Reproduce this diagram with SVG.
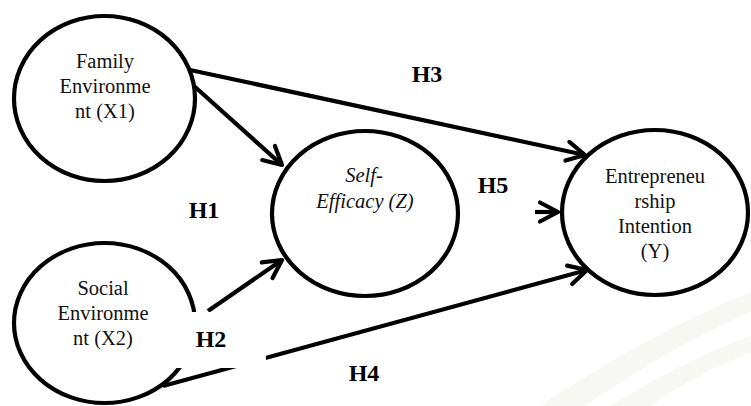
<svg xmlns="http://www.w3.org/2000/svg" width="751" height="406" viewBox="0 0 751 406">
<style>
.node{fill:none;stroke:#000;stroke-width:4.2}
.lbl{font-family:"Liberation Serif","Times New Roman",serif;font-size:20.5px;fill:#111;text-anchor:middle}
.it{font-style:italic}
.h{font-family:"Liberation Serif","Times New Roman",serif;font-size:24px;font-weight:bold;fill:#000;text-anchor:middle}
.conn{fill:none;stroke:#000;stroke-width:4.2;stroke-linecap:butt}
</style>
<defs>
<marker id="arr" markerUnits="userSpaceOnUse" orient="auto" refX="0" refY="0" viewBox="-22 -13 26 26" markerWidth="26" markerHeight="26" overflow="visible">
<path d="M-18,-9.5 L0,0 L-18,9.5" fill="none" stroke="#000" stroke-width="4.2" stroke-linecap="round" stroke-linejoin="round"/>
</marker>
</defs>
<rect width="751" height="406" fill="#fff"/>
<g id="watermark" fill="#f7f7f3">
<path d="M540,406 C610,360 680,320 751,292 L751,312 C690,338 630,375 585,406 Z"/>
<path d="M610,406 C660,375 710,350 751,336 L751,352 C715,366 675,388 650,406 Z"/>
</g>
<g id="connectors">
<line class="conn" x1="190" y1="70" x2="585" y2="155" marker-end="url(#arr)"/>
<line class="conn" x1="194" y1="86" x2="282" y2="165" marker-end="url(#arr)"/>
<line class="conn" x1="208" y1="311" x2="282" y2="260" marker-end="url(#arr)"/>
<line class="conn" x1="163" y1="386" x2="587" y2="270" marker-end="url(#arr)"/>
<line class="conn" x1="535" y1="212" x2="558" y2="212" marker-end="url(#arr)"/>
</g>
<g id="X1">
<ellipse class="node" cx="104.5" cy="98.5" rx="90.5" ry="82.5"/>
<text class="lbl" x="105" y="68">Family</text>
<text class="lbl" x="105" y="93">Environme</text>
<text class="lbl" x="105" y="118">nt (X1)</text>
</g>
<g id="X2">
<ellipse class="node" cx="104.5" cy="323" rx="90.5" ry="80"/>
<text class="lbl" x="103" y="295">Social</text>
<text class="lbl" x="103" y="320">Environme</text>
<text class="lbl" x="103" y="345">nt (X2)</text>
</g>
<g id="Z">
<ellipse class="node" cx="365" cy="213.5" rx="93" ry="82.5"/>
<text class="lbl it" x="364" y="182">Self-</text>
<text class="lbl it" x="365" y="208">Efficacy (Z)</text>
</g>
<g id="Y">
<ellipse class="node" cx="655" cy="212.5" rx="93" ry="82.5"/>
<text class="lbl" x="655" y="183">Entrepreneu</text>
<text class="lbl" x="655" y="208">rship</text>
<text class="lbl" x="655" y="233">Intention</text>
<text class="lbl" x="655" y="258">(Y)</text>
</g>
<g id="labels">
<text class="h" x="204" y="218">H1</text>
<rect x="176" y="312" width="90" height="56" fill="#fff"/>
<text class="h" x="211" y="347">H2</text>
<text class="h" x="427" y="82">H3</text>
<text class="h" x="364" y="381">H4</text>
<text class="h" x="493" y="193">H5</text>
</g>
</svg>
